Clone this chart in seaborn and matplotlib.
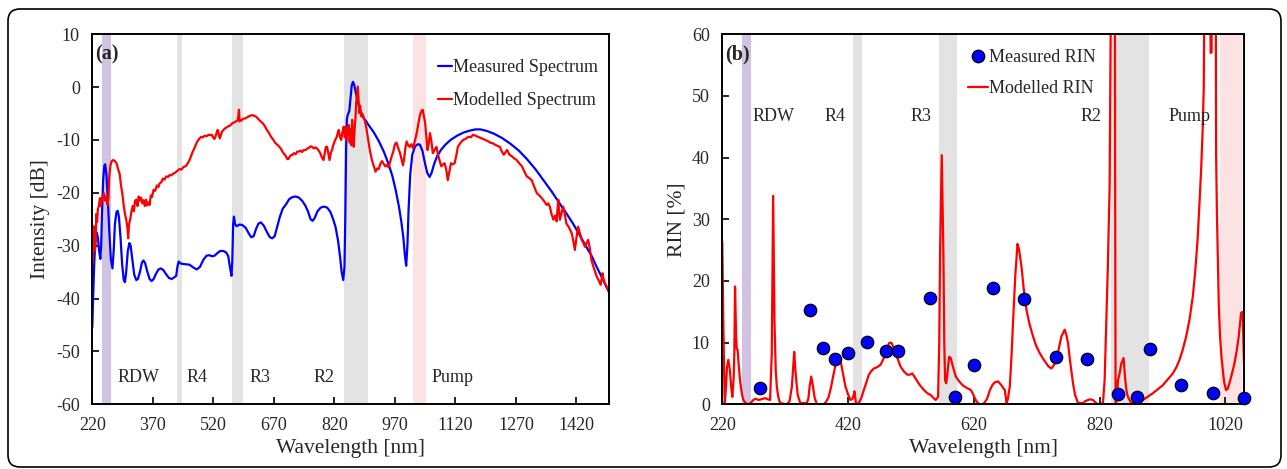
import numpy as np
import matplotlib
matplotlib.use("Agg")
import matplotlib.pyplot as plt
import seaborn as sns
from matplotlib.lines import Line2D
from matplotlib.patches import FancyBboxPatch

# ---- panel (a): spectra ----
meas_wl = [220, 222, 225, 228, 231, 234, 237, 240, 242, 244, 247, 250, 252, 255, 258, 262, 266, 270,
           273, 276, 280, 283, 286, 290, 294, 298, 301, 304, 308, 312, 315, 319, 324, 329, 333, 338,
           343, 347, 351, 356, 362, 367, 372, 378, 384, 390, 396, 403, 410, 417, 423, 428, 431, 434,
           440, 450, 461, 470, 479, 487, 495, 503, 510, 517, 523, 530, 537, 545, 552, 557, 561, 565,
           567, 569, 571, 574, 578, 585, 592, 600, 608, 614, 620, 626, 632, 638, 645, 652, 660, 666,
           672, 678, 685, 692, 700, 708, 716, 724, 732, 740, 748, 755, 761, 766, 771, 778, 786, 794,
           802, 810, 817, 823, 829, 834, 838, 842, 845, 847, 849, 851, 853, 857, 860, 863, 866, 869,
           873, 878, 884, 890, 897, 905, 918, 930, 943, 955, 964, 972, 980, 986, 991, 995, 998, 1001,
           1004, 1008, 1013, 1020, 1027, 1032, 1038, 1044, 1050, 1056, 1061, 1067, 1075, 1085, 1095,
           1108, 1124, 1140, 1157, 1170, 1182, 1198, 1215, 1235, 1256, 1277, 1297, 1318, 1338, 1359,
           1379, 1396, 1412, 1428, 1445, 1458, 1470, 1485, 1500]
meas_db = [-45.5, -40, -33, -28.5, -27.5, -28.5, -31, -32.5, -30, -24, -17.5, -14.8, -14.6, -16.5,
           -20.5, -27, -32.5, -34.3, -31, -26, -23.6, -23.4, -24.5, -28.5, -33.5, -36.5, -36.9, -35,
           -31, -29.5, -30, -32.5, -35.5, -36.5, -36.3, -35, -33.2, -32.8, -33.3, -34.8, -36.3, -36.7,
           -36.3, -35.3, -34.5, -34.3, -34.6, -35.4, -36.1, -36.3, -36, -35.7, -34, -33, -33.4, -33.5,
           -33.6, -34.1, -34.5, -34, -32.7, -31.9, -31.8, -32, -31.9, -31.4, -31, -31, -31.3, -32,
           -34, -35.7, -33, -26, -24.5, -26, -26.3, -26, -26.1, -26.6, -27.7, -28.4, -28.2, -26.8,
           -25.8, -25.6, -26.2, -27.3, -28.4, -28.6, -28.2, -26.5, -24.5, -23, -22.2, -21.2, -20.8,
           -20.7, -20.9, -21.5, -22.4, -23.6, -25, -25.3, -24.8, -23.5, -22.8, -22.6, -22.8, -23.6,
           -25, -26.5, -29, -32, -35, -36.5, -34, -25, -12, -6, -5.3, -4.5, -2, 0.3, 1.0, 0.5, -1,
           -2.8, -4.5, -5.6, -6.3, -7.2, -8.6, -10.2, -12.3, -14.7, -16.9, -19.5, -22.6, -25.5,
           -28.5, -32, -33.8, -30, -23, -16.5, -12.8, -11.2, -10.8, -10.9, -12, -14.2, -16.2, -17,
           -16.2, -14.6, -13, -11.8, -10.9, -10, -9.2, -8.6, -8.2, -8, -8, -8.3, -8.8, -9.6, -10.7,
           -12, -13.6, -15.5, -17.6, -19.8, -22.1, -24, -25.9, -28, -30.3, -32, -34, -36.3, -38.7]

model_wl = [220, 221.5, 223, 225, 226.5, 228, 230, 232, 234, 236, 239, 241, 243, 246, 249, 252, 255,
            258, 260, 262, 265, 268, 272, 276, 280, 284, 288, 291, 295, 298, 301, 304, 307, 309, 311,
            314, 317, 320, 323, 326, 329, 332, 335, 338, 341, 344, 347, 350, 353, 356, 359, 362, 365,
            368, 372, 376, 380, 384, 387, 391, 395, 399, 403, 408, 412, 416, 420, 425, 430, 436, 441,
            446, 451, 456, 461, 465, 469, 473, 477, 481, 486, 490, 494, 498, 503, 508, 512, 516, 520,
            523, 526, 529, 531, 533, 536, 538, 541, 545, 549, 553, 557, 561, 566, 571, 576, 580, 582,
            583.5, 585, 589, 594, 600, 606, 612, 616, 621, 626, 631, 636, 642, 647, 652, 658, 663, 668,
            674, 680, 687, 692, 696, 700, 703, 706, 709, 712, 716, 720, 724, 728, 732, 736, 740, 744,
            749, 753, 757, 761, 765, 769, 773, 777, 781, 785, 789, 793, 796, 799, 802, 805, 808, 811,
            814, 818, 822, 826, 829, 831, 834, 837, 840, 843, 846, 848, 850, 852, 854, 856, 858, 860,
            862, 864, 866, 868, 870, 872, 874, 876, 878, 880, 882, 884, 886, 889, 892, 896, 900, 904,
            908, 913, 918, 922, 926, 930, 934, 938, 942, 946, 950, 954, 958, 962, 966, 970, 974, 978,
            982, 986, 990, 993, 996, 999, 1003, 1007, 1011, 1015, 1020, 1024, 1028, 1032, 1036, 1039,
            1042, 1045, 1048, 1051, 1054, 1057, 1060, 1064, 1069, 1073, 1077, 1081, 1085, 1089, 1093,
            1097, 1101, 1105, 1109, 1113, 1118, 1122, 1126, 1132, 1139, 1145, 1152, 1158, 1164, 1170,
            1176, 1182, 1188, 1194, 1200, 1206, 1212, 1218, 1224, 1230, 1235, 1240, 1248, 1254, 1260,
            1266, 1272, 1278, 1285, 1291, 1297, 1303, 1309, 1315, 1322, 1328, 1334, 1340, 1346, 1350,
            1354, 1358, 1363, 1367, 1371, 1373, 1375, 1377, 1379, 1383, 1387, 1391, 1395, 1401, 1408,
            1412, 1416, 1420, 1424, 1428, 1433, 1437, 1441, 1445, 1449, 1453, 1457, 1463, 1470, 1475,
            1480, 1482, 1484.5, 1487, 1490, 1495, 1500]
model_db = [-26, -33, -28, -26.4, -31, -30, -24, -25.5, -23, -22.6, -21, -22.5, -21.7, -20.5, -20.1,
            -21.5, -20.7, -22.3, -21, -17, -14.8, -14, -13.8, -14, -14.4, -15.5, -16.5, -18.5, -20.5,
            -22.5, -24, -25, -26.5, -28.6, -26, -25, -23.5, -22.5, -23.5, -21.5, -21.3, -22.5, -20.7,
            -21.5, -20.9, -22, -21.4, -22.5, -21.3, -22.4, -21.8, -22.3, -20.5, -20.8, -19.4, -19.6,
            -18.6, -18.9, -18.2, -18, -17.3, -17.5, -16.9, -17, -16.6, -16.7, -16.4, -16.2, -15.9,
            -15.5, -15.6, -15.1, -15.0, -14.5, -13.8, -13, -12.2, -11.6, -10.8, -10.2, -9.7, -9.4,
            -9.5, -9.2, -9.3, -9, -9.1, -9.0, -9.6, -9.8, -9.2, -8.4, -8.1, -8.8, -9.7, -9.3, -8.5,
            -8.1, -7.8, -7.6, -7.4, -7.3, -6.9, -6.7, -6.5, -6.3, -5.5, -4.3, -6.5, -6.3, -6, -5.9,
            -5.6, -5.4, -5.3, -5.4, -5.6, -6, -6.4, -6.8, -7.3, -8, -8.7, -9.4, -9.9, -10.6, -11,
            -11.6, -12.3, -12.7, -13.1, -13.6, -13.6, -13.2, -12.9, -12.8, -12.5, -12.7, -12.2, -12.2,
            -12.0, -12.3, -11.9, -11.9, -11.6, -11.5, -11.2, -11.3, -11.6, -11.4, -11.6, -12, -12.5,
            -13.3, -13.8, -12.5, -11.3, -11.3, -12.5, -13.8, -12.5, -11.9, -10.8, -10, -9.4, -8.5,
            -8.1, -9.5, -10, -8.5, -7.5, -9.5, -7.5, -10, -8, -9, -7.2, -10.5, -8, -11, -6.2, -9,
            -11.3, -8, -6.2, -3, -1.5, 0.1, -2.5, -4.9, -3.5, -5.5, -5, -5.6, -6.5, -8.1, -10, -12,
            -13.8, -15, -16, -15.4, -15.5, -14.5, -14, -14.5, -15, -14.7, -15.2, -14.2, -13.1, -12.2,
            -10.8, -10.5, -11.5, -12.3, -13.5, -14.8, -13.5, -11.5, -10.3, -11, -11.3, -10.8, -11.6,
            -10, -8.7, -7, -5.3, -4.5, -4.3, -5.5, -6.8, -9.5, -11.9, -10.5, -8.7, -10, -12.5, -11.8,
            -11.3, -12.8, -14, -15.0, -14.6, -14.4, -15.5, -17.6, -16, -14.4, -14.6, -14.4, -13, -11.3,
            -10.6, -10.0, -9.8, -9.4, -9.5, -9.0, -9.2, -9.4, -9.6, -9.8, -10.0, -10.2, -10.5, -10.6,
            -10.9, -11.1, -11.3, -12.2, -12.8, -11.9, -12.8, -13.1, -13.5, -13.8, -14.4, -15.0, -16,
            -16.9, -17.2, -17.6, -18.8, -20.1, -20.5, -21.0, -21.6, -22.3, -22.0, -22.6, -24, -25.1,
            -24.3, -25.4, -23, -21.3, -23.5, -25.1, -23.8, -22.6, -24, -25.8, -26.5, -27.6, -29, -30.8,
            -28.5, -26.4, -27.5, -28.9, -29.5, -30.2, -29.5, -28.9, -30.5, -32.7, -34.2, -35.8, -36.6,
            -37.4, -36.5, -35.2, -36.3, -37.1, -37.8, -38.4]

# ---- panel (b): RIN ----
rin_pts_wl = [280, 360, 380, 400, 420, 450, 480, 500, 550, 590, 620, 650, 700, 750, 800, 850, 880,
              900, 950, 1000, 1049]
rin_pts = [2.7, 15.3, 9.2, 7.4, 8.3, 10.1, 8.6, 8.6, 17.3, 1.2, 6.3, 18.9, 17.0, 7.7, 7.4, 1.7, 1.2,
           8.9, 3.1, 1.9, 1.0]

rin_wl = [220, 221.6, 223, 224, 226, 227.5, 229.6, 232, 234, 236, 238, 239.2, 240.3, 241.3, 242, 243,
          244.5, 246, 248.2, 251, 253.5, 257, 261.5, 265, 269.5, 273, 277.5, 282, 288, 293, 296,
          298.7, 300.9, 303, 305, 306.7, 309, 312, 322.7, 327, 330.7, 332.5, 334.4, 336, 337.6, 340,
          344, 354.6, 357, 358.9, 361.5, 364.2, 367, 370.6, 381.2, 385, 389.2, 393, 397.2, 402.5,
          405, 407.8, 411, 415.8, 420, 423.8, 427, 429, 430.2, 431.5, 432.9, 437, 441, 445, 449,
          453, 457, 461, 466, 471.6, 476, 479.6, 485, 488.7, 493, 498, 503.6, 509, 514.2, 518,
          522.2, 526, 530.2, 535, 540.8, 546, 551.4, 556, 559.4, 563.1, 565, 566.3, 569, 571.6, 573,
          574.3, 576, 577.5, 580.7, 583.3, 587, 591.3, 596, 602, 608, 615.3, 618, 620.6, 624, 628.6,
          633, 636.6, 641, 645.5, 650, 654, 658.7, 663, 667, 669.3, 671, 672, 674, 677.2, 680,
          682.5, 686, 689.4, 692, 695.8, 699, 703.7, 709, 714.2, 719, 724.8, 730, 735.4, 739,
          743.3, 747, 751.3, 755, 759.2, 764.5, 767, 769.8, 773, 777.7, 781, 785.7, 793.6, 797,
          801.5, 805, 809.4, 813, 817.4, 825.3, 828, 830.6, 833, 835.9, 837.5, 838.6, 843.9, 844.6,
          845.4, 847.5, 849.1, 851.8, 854.4, 858.1, 860.8, 863, 865, 870.3, 878.2, 888.8, 896,
          904.7, 912, 920.5, 928, 936.4, 942, 947, 952, 957.6, 963, 968.2, 972, 976.1, 979, 981.4,
          984, 985.6, 988.3, 995, 996.5, 998, 999.5, 1004, 1005.2, 1006.5, 1007.8, 1009.5, 1011.5,
          1013.5, 1015.8, 1018, 1021, 1023.5, 1026.3, 1030, 1034.3, 1038, 1041.2, 1044.9, 1047.5,
          1049, 1050]
rin_model = [26.4, 13.7, 5, 0, 3, 6, 7.2, 5.6, 3, 1.2, 4, 8.3, 19.1, 14, 11, 9, 8.8, 6.5, 3.9, 1.8,
             0.7, 0.2, 0, 0.2, 0.7, 0.9, 0.7, 0.8, 1.0, 0.8, 0.7, 8.3, 33.8, 13.7, 5.5, 2.9, 1.2,
             0.2, 0, 0.5, 2.9, 5.5, 8.5, 6, 3.9, 1.5, 0.2, 0.2, 1, 2.9, 4.5, 2.9, 1, 0, 0, 0.4, 1.2,
             2.8, 5.0, 7.5, 7.6, 7.2, 5.5, 2.9, 1.6, 0.7, 0.9, 1.5, 2.1, 1.0, 0, 0.2, 1, 2.3, 3.5,
             4.8, 5.4, 5.8, 6.0, 6.4, 7.3, 8.3, 9.9, 10.0, 9.1, 7.6, 6.1, 5.3, 4.8, 4.8, 5.0, 4.4,
             3.7, 3.0, 2.3, 1.8, 1.5, 1.0, 0.7, 1.2, 10, 24.5, 40.4, 24.5, 10, 3.9, 3.4, 4.5, 7.7,
             7.5, 6, 4.5, 3.8, 3.1, 2.7, 2.3, 1.8, 1.2, 0.5, 0, 0, 0.2, 0.9, 2.3, 3.2, 3.6, 3.7, 3.2,
             2.6, 2.3, 1, 0.2, 0.8, 2.9, 8, 13.7, 21, 26.0, 25, 22.3, 19, 15.3, 12.8, 11.0, 9.5, 8.3,
             7.4, 6.6, 6.1, 5.8, 6.3, 7.2, 9, 11.0, 12.1, 11.3, 9.9, 7, 3.4, 1.5, 0.2, 0.2, 0.5, 0.7,
             0.8, 0.7, 0.3, 0, 0.2, 4, 13.7, 22, 35.3, 60, 100, 100, 40, 0, 0.7, 3.9, 5.0, 6.6, 7.5,
             3.9, 2, 1.2, 0.2, 0.2, 0.7, 1.2, 1.8, 2.4, 3.1, 4, 5.0, 6, 7.2, 8.8, 11.0, 13.8, 17.5,
             21.5, 27.2, 33, 38, 45, 51.5, 100, 100, 57, 57, 100, 100, 40.7, 31, 24.5, 16, 11.0, 8,
             5.6, 3.6, 2.3, 2.5, 3.4, 4.8, 6.6, 8.7, 11.0, 14.8, 15.0, 8.3, 5]

# shaded bands (nm) and region labels
bands_a = [(243, 266, "#d3c3e3"), (429, 442, "#e3e3e3"), (566, 594, "#e3e3e3"),
           (843, 904, "#e3e3e3"), (1015, 1048, "#fde2e4")]
bands_b = [(252, 265, "#d3c3e3"), (428, 442, "#e3e3e3"), (565, 593, "#e3e3e3"),
           (838, 898, "#e3e3e3"), (1012, 1047, "#fde2e4")]
region_names = ["RDW", "R4", "R3", "R2", "Pump"]
region_x_a = [334, 479, 635, 795, 1112]
region_x_b = [301, 400, 536, 807, 963]

sns.set_theme(style="white")
plt.rcParams['font.family'] = ['Liberation Serif', 'DejaVu Serif']
plt.rcParams['axes.unicode_minus'] = False

fig = plt.figure(figsize=(12.87, 4.69), dpi=100)
ax1 = fig.add_axes([0.0717, 0.138, 0.4013, 0.789])
ax2 = fig.add_axes([0.5612, 0.138, 0.4056, 0.789])

# outer rounded frame
frame = FancyBboxPatch((8, 2), 1273, 458, boxstyle="round,pad=0,rounding_size=12",
                       transform=None, facecolor="none", edgecolor="black", linewidth=1.2)
fig.patches.append(frame)

# ---- (a) ----
for lo, hi, c in bands_a:
    ax1.axvspan(lo, hi, color=c, lw=0, zorder=0)
sns.lineplot(x=meas_wl, y=meas_db, ax=ax1, color="#0000ff", lw=1.6, sort=False, estimator=None)
sns.lineplot(x=model_wl, y=model_db, ax=ax1, color="#ff0000", lw=1.6, sort=False, estimator=None)
ax1.set_xlim(220, 1500)
ax1.set_ylim(-60, 10)
ax1.set_xticks(np.arange(220, 1500, 150))
ax1.set_yticks(np.arange(-60, 11, 10))
ax1.set_xlabel("Wavelength [nm]", fontsize=15.5, labelpad=4)
ax1.set_ylabel("Intensity [dB]", fontsize=15.5, labelpad=4)
for name, xx in zip(region_names, region_x_a):
    ax1.text(xx, -55, name, fontsize=13, ha="center", va="center")
ax1.text(0.006, 0.945, "(a)", transform=ax1.transAxes, fontsize=14.5, fontweight="bold",
         ha="left", va="center")
h_a = [Line2D([], [], color="#0000ff", lw=1.6), Line2D([], [], color="#ff0000", lw=1.6)]
ax1.legend(h_a, ["Measured Spectrum", "Modelled Spectrum"], loc="upper left",
           bbox_to_anchor=(0.67, 0.932), frameon=False, fontsize=13, handlelength=0.75,
           handletextpad=0.05, labelspacing=0.86, borderpad=0, borderaxespad=0)

# ---- (b) ----
for lo, hi, c in bands_b:
    ax2.axvspan(lo, hi, color=c, lw=0, zorder=0)
sns.lineplot(x=rin_wl, y=rin_model, ax=ax2, color="#ff0000", lw=1.6, sort=False, estimator=None)
sns.scatterplot(x=rin_pts_wl, y=rin_pts, ax=ax2, color="#0000ff", edgecolor="black",
                linewidth=0.9, s=80, zorder=5, clip_on=False)
ax2.set_xlim(220, 1050)
ax2.set_ylim(0, 60)
ax2.set_xticks(np.arange(220, 1050, 200))
ax2.set_yticks(np.arange(0, 61, 10))
ax2.set_xlabel("Wavelength [nm]", fontsize=15.5, labelpad=4)
ax2.set_ylabel("RIN [%]", fontsize=15.5, labelpad=4)
for name, xx in zip(region_names, region_x_b):
    ax2.text(xx, 46.6, name, fontsize=13, ha="center", va="center")
ax2.text(0.006, 0.944, "(b)", transform=ax2.transAxes, fontsize=14.5, fontweight="bold",
         ha="left", va="center")
h_b = [Line2D([], [], ls="none", marker="o", markersize=9, markerfacecolor="#0000ff",
              markeredgecolor="black", markeredgewidth=0.9),
       Line2D([], [], color="#ff0000", lw=1.6)]
ax2.legend(h_b, ["Measured RIN", "Modelled RIN"], loc="upper left",
           bbox_to_anchor=(0.47, 0.96), frameon=False, fontsize=13, handlelength=1.15,
           handletextpad=0.05, labelspacing=0.77, borderpad=0, borderaxespad=0)

for ax in (ax1, ax2):
    for sp in ax.spines.values():
        sp.set_visible(True)
        sp.set_color("black")
        sp.set_linewidth(1.4)
    ax.tick_params(axis="both", direction="in", length=5, width=1.2, labelsize=13,
                   color="black", pad=9, bottom=True, left=True, top=False, right=False)
    ax.grid(False)

fig.savefig("out.png", dpi=100)
